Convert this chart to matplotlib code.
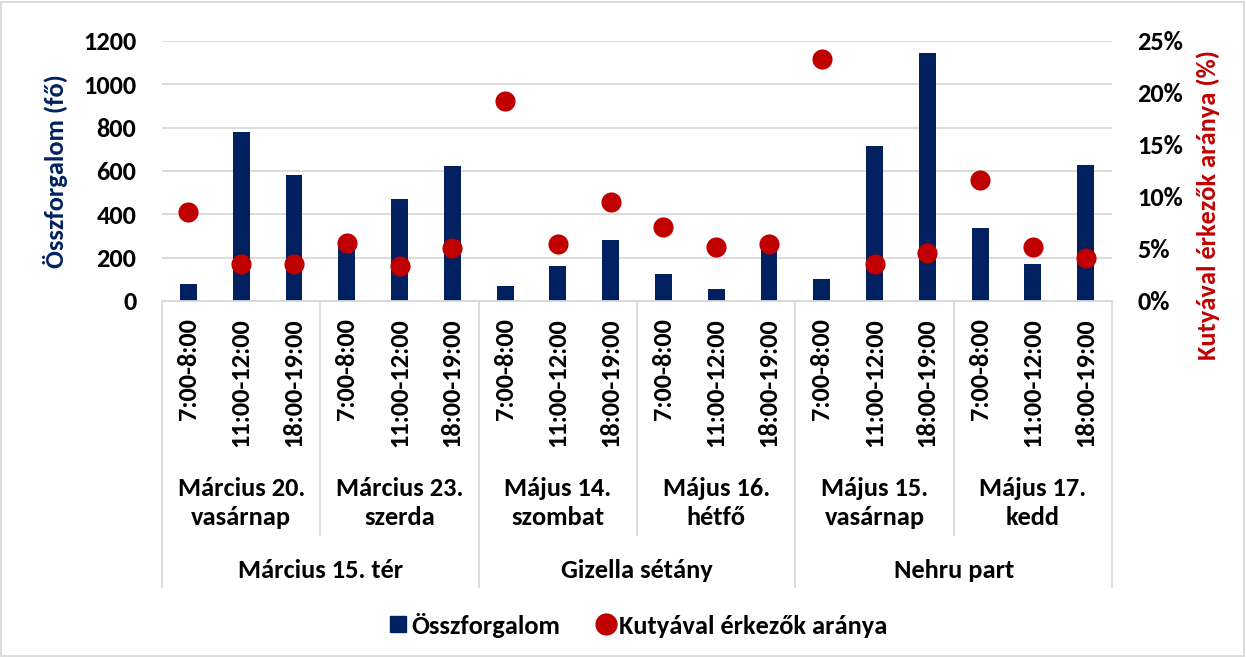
import matplotlib
matplotlib.use("Agg")
import matplotlib.pyplot as plt
from matplotlib.lines import Line2D
from matplotlib.patches import Rectangle
import numpy as np

plt.rcParams['font.family'] = ['Carlito', 'DejaVu Sans']
plt.rcParams['font.weight'] = 'bold'

# ---- data ----
times = ["7:00-8:00", "11:00-12:00", "18:00-19:00"] * 6
days = ["Március 20.\nvasárnap", "Március 23.\nszerda", "Május 14.\nszombat",
        "Május 16.\nhétfő", "Május 15.\nvasárnap", "Május 17.\nkedd"]
locations = ["Március 15. tér", "Gizella sétány", "Nehru part"]
total = [80, 780, 580, 255, 470, 625, 70, 160, 280,
         125, 55, 250, 100, 715, 1145, 335, 170, 630]
dog_share = [8.6, 3.6, 3.6, 5.6, 3.4, 5.1, 19.2, 5.5, 9.5,
             7.1, 5.2, 5.45, 23.3, 3.6, 4.6, 11.6, 5.2, 4.1]
left_ticks = [0, 200, 400, 600, 800, 1000, 1200]
right_ticks = [0, 5, 10, 15, 20, 25]

NAVY = "#002060"
RED = "#C00000"
GRID = "#D9D9D9"
FS = 19

W, H = 1246, 657
fig = plt.figure(figsize=(W / 100, H / 100), dpi=100)
px_l, px_r, px_t, px_b = 162, 1112, 41, 301
ax = fig.add_axes([px_l / W, 1 - px_b / H, (px_r - px_l) / W, (px_b - px_t) / H])
ax2 = ax.twinx()

x = np.arange(len(total))
ax.bar(x, total, width=0.32, color=NAVY, zorder=2)
ax.set_xlim(-0.5, len(total) - 0.5)
ax.set_ylim(0, 1200)
ax.set_yticks(left_ticks)
ax.set_yticklabels([str(v) for v in left_ticks], fontsize=FS, fontweight='bold')
ax.grid(axis='y', color=GRID, linewidth=1.3, zorder=0)
ax.set_axisbelow(True)
for s in ['top', 'right', 'left']:
    ax.spines[s].set_visible(False)
ax.spines['bottom'].set_color(GRID)
ax.spines['bottom'].set_linewidth(1.3)
ax.tick_params(axis='y', length=0, pad=18.5)
ax.set_xticks(x)
ax.set_xticklabels(times, rotation=90, fontsize=FS, fontweight='bold')
ax.tick_params(axis='x', length=0, pad=12.5)

ax2.scatter(x, dog_share, s=14.5 ** 2, color=RED, zorder=3, linewidths=0)
ax2.set_ylim(0, 25)
ax2.set_yticks(right_ticks)
ax2.set_yticklabels([f"{v}%" for v in right_ticks], fontsize=FS, fontweight='bold')
ax2.tick_params(axis='y', length=0, pad=18)
for s in ['top', 'right', 'left', 'bottom']:
    ax2.spines[s].set_visible(False)

# ---- multi-level category axis ----
tr = ax.get_xaxis_transform()
ph = px_b - px_t
def ay(py):
    return (px_b - py) / ph

for i in range(len(days) + 1):
    xb = i * 3 - 0.5
    bottom = 587 if i % 2 == 0 else 535
    ax.plot([xb, xb], [0, ay(bottom)], transform=tr, color=GRID, lw=1.3,
            clip_on=False, zorder=1)

for i, d in enumerate(days):
    ax.text(i * 3 + 1, ay(503), d, transform=tr, ha='center', va='center',
            fontsize=FS, fontweight='bold', linespacing=1.3)
for i, loc in enumerate(locations):
    ax.text(i * 6 + 2.5, ay(570), loc, transform=tr, ha='center', va='center',
            fontsize=FS, fontweight='bold')

# ---- axis titles ----
fig.text(55 / W, 1 - 171 / H, "Összforgalom (fő)", rotation=90, ha='center',
         va='center', color=NAVY, fontsize=FS, fontweight='bold')
fig.text(1208 / W, 1 - 205 / H, "Kutyával érkezők aránya (%)", rotation=90,
         ha='center', va='center', color=RED, fontsize=FS, fontweight='bold')

# ---- legend ----
handles = [Line2D([], [], marker='s', linestyle='none', color=NAVY, markersize=12),
           Line2D([], [], marker='o', linestyle='none', color=RED, markersize=15)]
fig.legend(handles, ["Összforgalom", "Kutyával érkezők aránya"], loc='center',
           bbox_to_anchor=(636 / W, 1 - 625 / H), ncol=2, frameon=False,
           fontsize=FS, handletextpad=0.0, columnspacing=1.25, handlelength=1.0)

# ---- figure border ----
fig.patches.append(Rectangle((1 / W, 1 / H), (W - 3) / W, (H - 3) / H,
                             transform=fig.transFigure, fill=False,
                             edgecolor=GRID, linewidth=1.3))

fig.savefig("out.png", dpi=100, facecolor='white')
